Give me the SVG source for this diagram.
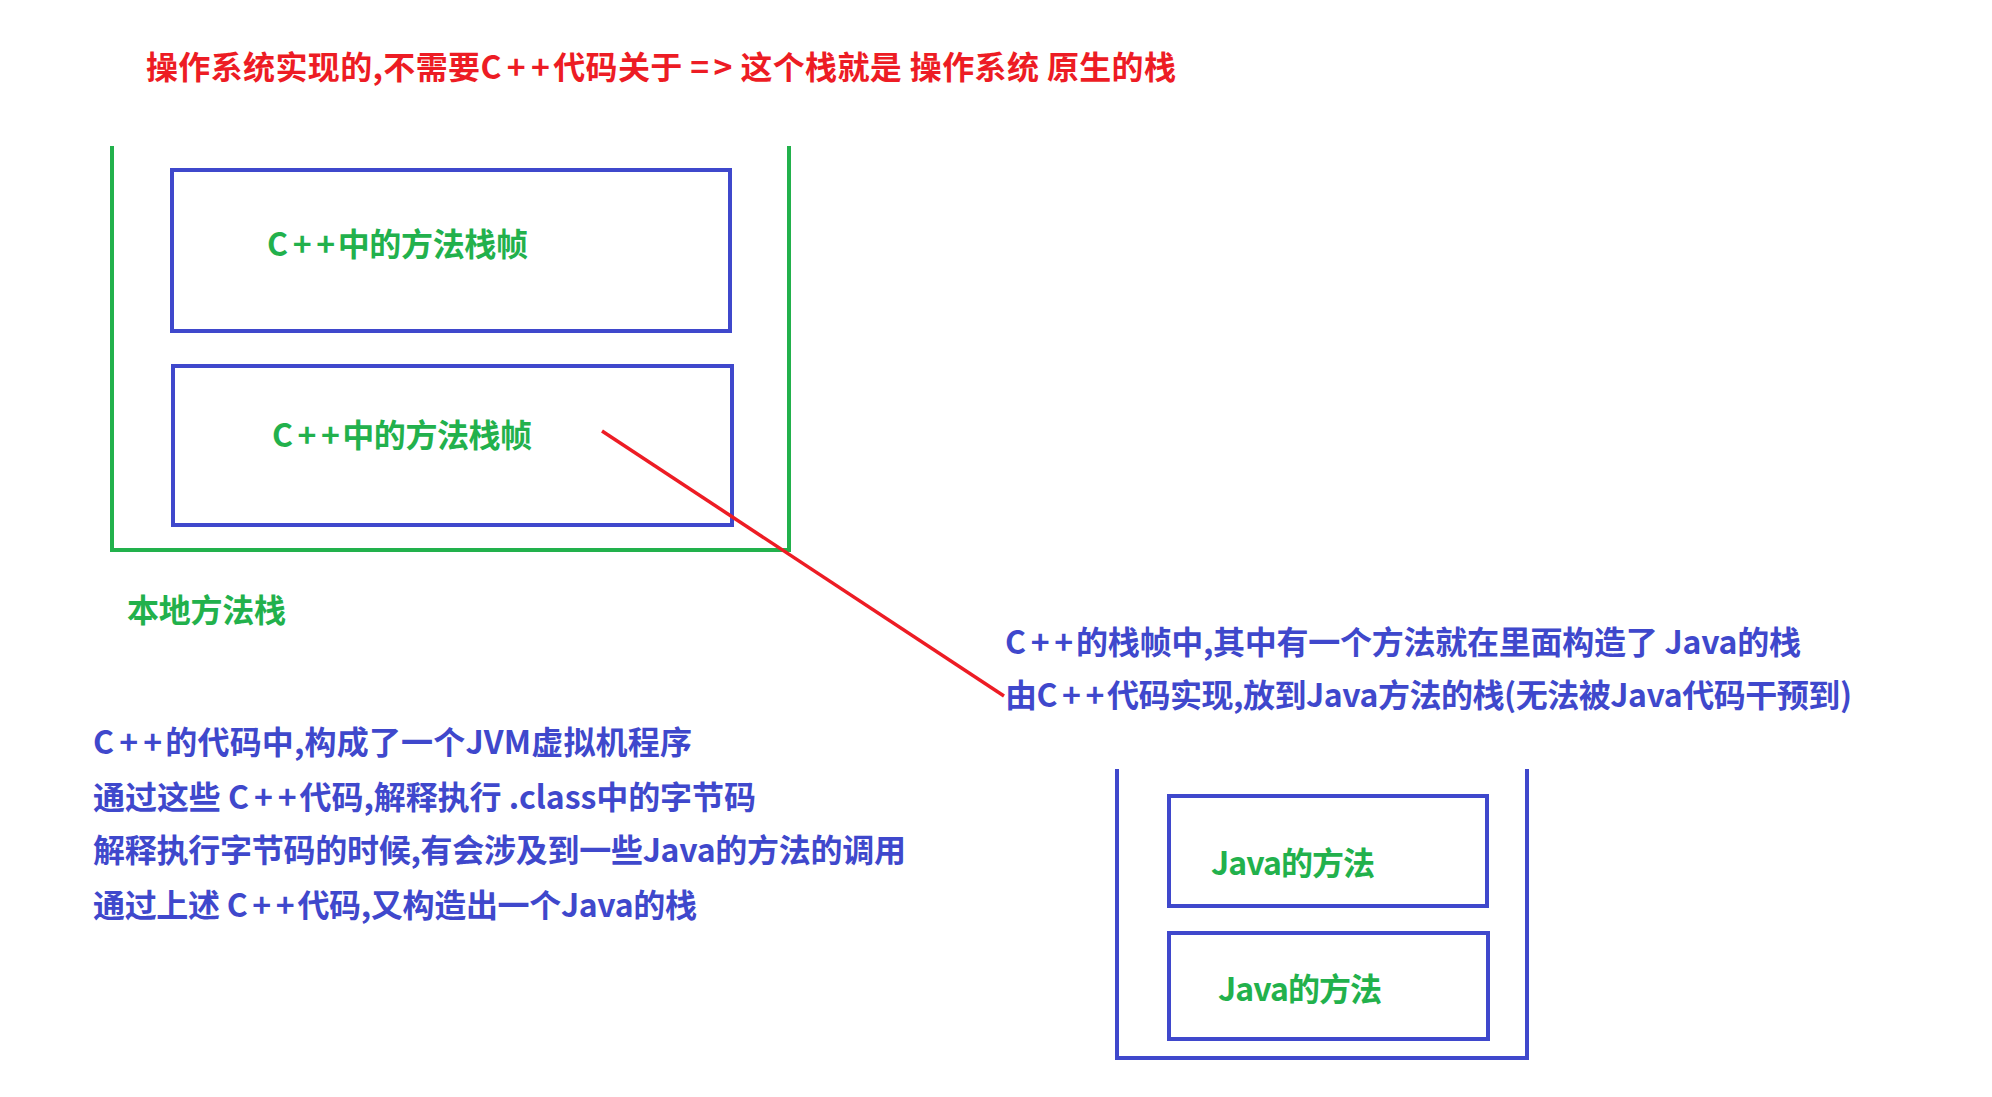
<svg xmlns="http://www.w3.org/2000/svg" width="1992" height="1097" viewBox="0 0 1992 1097">
<style>
text{font-family:"Noto Sans CJK SC","Noto Sans",sans-serif;font-weight:bold;font-size:32px}
.red{fill:#ed1c24}
.green{fill:#22b14c}
.blue{fill:#3f48cc}
.box{fill:none;stroke:#3f48cc;stroke-width:4}
.gbox{fill:none;stroke:#22b14c;stroke-width:4}
</style>
<rect width="1992" height="1097" fill="#ffffff"/>
<g id="title"><text class="red" x="146" y="79" textLength="1030" lengthAdjust="spacing">操作系统实现的,不需要C<tspan dx="5">+</tspan><tspan dx="5">+</tspan><tspan dx="3">代码关于</tspan> =<tspan dx="4">&gt;</tspan> 这个栈就是 操作系统 原生的栈</text></g>
<g id="native-stack">
<polyline class="gbox" points="112,146 112,550 789,550 789,146"/>
<text class="green" x="127" y="622" textLength="159" lengthAdjust="spacing">本地方法栈</text>
</g>
<g id="cpp-frame-1">
<rect class="box" x="172" y="170" width="558" height="161"/>
<text class="green" x="267" y="256" textLength="261" lengthAdjust="spacing">C<tspan dx="5">+</tspan><tspan dx="5">+</tspan><tspan dx="3">中的方法栈帧</tspan></text>
</g>
<g id="cpp-frame-2">
<rect class="box" x="173" y="366" width="559" height="159"/>
<text class="green" x="272" y="447" textLength="260" lengthAdjust="spacing">C<tspan dx="5">+</tspan><tspan dx="5">+</tspan><tspan dx="3">中的方法栈帧</tspan></text>
</g>
<g id="connectors">
<line x1="602" y1="431" x2="1004" y2="696" stroke="#ed1c24" stroke-width="3.5"/>
</g>
<g id="java-note">
<text class="blue" x="1005" y="654" textLength="796" lengthAdjust="spacing">C<tspan dx="5">+</tspan><tspan dx="5">+</tspan><tspan dx="3">的栈帧中,其中有一个方法就在里面构造了 Java的栈</tspan></text>
<text class="blue" x="1005" y="707" textLength="847" lengthAdjust="spacing">由C<tspan dx="5">+</tspan><tspan dx="5">+</tspan><tspan dx="3">代码实现,放到Java方法的栈(无法被Java代码干预到)</tspan></text>
</g>
<g id="jvm-note">
<text class="blue" x="93" y="754" textLength="599" lengthAdjust="spacing">C<tspan dx="5">+</tspan><tspan dx="5">+</tspan><tspan dx="3">的代码中,构成了一个JVM虚拟机程序</tspan></text>
<text class="blue" x="93" y="809" textLength="663" lengthAdjust="spacing">通过这些 C<tspan dx="5">+</tspan><tspan dx="5">+</tspan><tspan dx="3">代码,解释执行 .class中的字节码</tspan></text>
<text class="blue" x="93" y="862" textLength="813" lengthAdjust="spacing">解释执行字节码的时候,有会涉及到一些Java的方法的调用</text>
<text class="blue" x="93" y="917" textLength="604" lengthAdjust="spacing">通过上述 C<tspan dx="5">+</tspan><tspan dx="5">+</tspan><tspan dx="3">代码,又构造出一个Java的栈</tspan></text>
</g>
<g id="java-stack">
<polyline class="box" points="1117,769 1117,1058 1527,1058 1527,769"/>
</g>
<g id="java-method-1">
<rect class="box" x="1169" y="796" width="318" height="110"/>
<text class="green" x="1211" y="875" textLength="164" lengthAdjust="spacing">Java的方法</text>
</g>
<g id="java-method-2">
<rect class="box" x="1169" y="933" width="319" height="106"/>
<text class="green" x="1218" y="1001" textLength="164" lengthAdjust="spacing">Java的方法</text>
</g>
</svg>
